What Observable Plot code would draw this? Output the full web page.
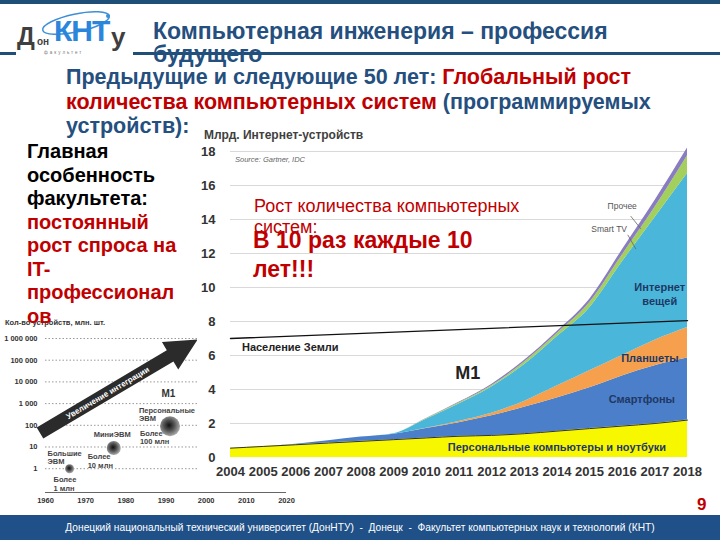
<!DOCTYPE html>
<html><head><meta charset="utf-8">
<script src="https://cdn.jsdelivr.net/npm/d3@7"></script>
<script src="https://cdn.jsdelivr.net/npm/@observablehq/plot@0.6"></script>
<style>
body{margin:0;background:#fff;}
#slide{position:relative;width:720px;height:540px;overflow:hidden;font-family:"Liberation Sans",Arial,sans-serif;background:#fff;}
.abs{position:absolute;white-space:nowrap;}
#main{position:absolute;left:197px;top:125px;}
#left{position:absolute;left:0px;top:315px;}
</style></head><body><div id="slide">
<div class="abs" style="left:0;top:0;width:720px;height:4px;background:#1f4e79"></div>
<div class="abs" style="left:0;top:52px;width:16px;height:3px;background:#1f4e79"></div>
<div class="abs" style="left:133px;top:52px;width:587px;height:3px;background:#1f4e79"></div>
<svg class="abs" style="left:38px;top:6px" width="80" height="36"><ellipse cx="38" cy="17" rx="34" ry="9" transform="rotate(-12 38 17)" fill="none" stroke="#3d8fd8" stroke-width="1.5"/><circle cx="70" cy="10" r="2" fill="#3d8fd8"/></svg>
<div class="abs" style="left:17px;top:22px;font-size:25px;font-weight:bold;color:#3f3f3f">Д</div>
<div class="abs" style="left:37px;top:36px;font-size:10px;font-weight:bold;color:#3f3f3f">он</div>
<div class="abs" style="left:54px;top:14px;font-size:30px;font-weight:bold;color:#2b86db;letter-spacing:-1px">КНТ</div>
<div class="abs" style="left:111px;top:22px;font-size:26px;font-weight:bold;color:#3f3f3f">у</div>
<div class="abs" style="left:44px;top:50px;font-size:4.5px;color:#777;letter-spacing:2px">факультет</div>

<div id="left"></div>
<div class="abs" style="left:5px;top:318px;font-size:7.5px;font-weight:bold;color:#333">Кол-во устройств, млн. шт.</div>
<div id="main"></div>
<div class="abs" style="left:204px;top:128px;font-size:12px;font-weight:bold;color:#404040">Млрд. Интернет-устройств</div>
<div class="abs" style="left:235px;top:155px;font-size:7.5px;font-style:italic;color:#666">Source: Gartner, IDC</div>

<div class="abs" style="left:153px;top:20px;font-size:23px;line-height:23px;font-weight:bold;color:#244f7e">Компьютерная инженерия – профессия<br>будущего</div>
<div class="abs" style="left:66px;top:65px;font-size:21.5px;line-height:24.5px;font-weight:bold;color:#244f7e">Предыдущие и следующие 50 лет: <span style="color:#c00000">Глобальный рост</span><br><span style="color:#c00000">количества компьютерных систем</span> (программируемых<br>устройств):</div>
<div class="abs" style="left:27px;top:140px;font-size:20px;line-height:23.5px;font-weight:bold;color:#000">Главная<br>особенность<br>факультета:<br><span style="color:#c00000">постоянный<br>рост спроса на<br>IT-<br>профессионал<br>ов</span></div>
<div class="abs" style="left:254px;top:196px;font-size:18px;line-height:21px;color:#c00000">Рост количества компьютерных<br>систем:</div>
<div class="abs" style="left:253px;top:226px;font-size:23px;line-height:29px;font-weight:bold;color:#c00000">В 10 раз каждые 10<br>лет!!!</div>
<div class="abs" style="left:697px;top:495px;font-size:17px;font-weight:bold;color:#c00000">9</div>
<div class="abs" style="left:0;top:515px;width:720px;height:25px;background:#1f5087;color:#fff;font-size:10.2px;line-height:25px;text-align:center">Донецкий национальный технический университет (ДонНТУ)&nbsp; - &nbsp;Донецк&nbsp; - &nbsp;Факультет компьютерных наук и технологий (КНТ)</div>
</div>
<script>
// ---------- Main chart data (billions of internet devices) ----------
const years = [2004,2005,2006,2007,2008,2009,2010,2011,2012,2013,2014,2015,2016,2017,2018];
const pcs         = [0.55,0.65,0.75,0.85,0.95,1.05,1.15,1.25,1.30,1.40,1.55,1.70,1.85,2.00,2.20];
const smartphones = [0,0,0.03,0.13,0.25,0.32,0.55,0.80,1.15,1.55,1.95,2.40,2.95,3.40,3.65];
const tablets     = [0,0,0,0,0,0,0.02,0.07,0.15,0.35,0.70,1.00,1.20,1.50,1.80];
const iot         = [0,0,0,0,0,0.03,0.53,1.03,1.55,2.15,2.90,3.70,5.50,7.20,9.05];
const smartTV     = [0,0,0,0,0,0,0.03,0.05,0.07,0.15,0.18,0.30,0.40,0.60,1.05];
const other       = [0,0,0,0,0,0,0.02,0.05,0.08,0.10,0.12,0.20,0.30,0.40,0.45];
const seriesNames = ["Персональные компьютеры и ноутбуки","Смартфоны","Планшеты","Интернет вещей","Smart TV","Прочее"];
const seriesColors = ["#f7f700","#4b7fca","#f6a04d","#4ab6d9","#a3cf5c","#8a7cc0"];
const popYears = [2004,2018];
const population = [7.0,8.05];
const yTicks = [0,2,4,6,8,10,12,14,16,18];

const bandLabels = [
  {text:"Персональные компьютеры и ноутбуки", x:2014.0, y:0.65},
  {text:"Смартфоны", x:2016.6, y:3.45},
  {text:"Планшеты", x:2016.85, y:5.86},
  {text:"Интернет\nвещей", x:2017.15, y:9.62}
];
const popLabel = [{text:"Население Земли", x:2005.83, y:6.5}];
const m1Label = [{text:"M1", x:2011.27, y:4.94}];
const smallLabels = [{text:"Прочее", x:2016.0, y:14.75},{text:"Smart TV", x:2015.6, y:13.4}];
const leaders = [{x1:2016.26,y1:14.2,x2:2016.57,y2:13.45},{x1:2016.17,y1:13.1,x2:2016.42,y2:12.26}];

// ---------- Left chart data (millions of devices, log) ----------
const eraYears = [1966,1977,1991];
const eraCounts = [1,9,90];
const eraRadius = [4.5,7,10];
const leftYTicks = [1,10,100,1000,10000,100000,1000000];
const leftXTicks = [1960,1970,1980,1990,2000,2010,2020];
const eraLabels = [
  {text:"Большие\nЭВМ", x:1960.5, y:3.4},
  {text:"Более\n1 млн", x:1962, y:0.2},
  {text:"МиниЭВМ", x:1972, y:37},
  {text:"Более\n10 млн", x:1970.5, y:2.3},
  {text:"Персональные\nЭВМ", x:1983.25, y:310},
  {text:"Более\n100 млн", x:1983.5, y:28}
];
const leftM1 = [{text:"M1", x:1990.6, y:2900}];
const arrowFrom = [1958.75, 42];
const arrowTo = [1998, 850000];
const arrowText = "Увеличение интеграции";

const stackRows = seriesNames.flatMap((s,i)=>years.map((y,j)=>({year:y, series:s, value:[pcs,smartphones,tablets,iot,smartTV,other][i][j]})));
const pcRows = years.map((y,j)=>({year:y, value:pcs[j]}));
const popRows = popYears.map((y,j)=>({year:y, value:population[j]}));

const font = "Liberation Sans, Arial, sans-serif";
const main = Plot.plot({
  width:518, height:360, marginLeft:33, marginRight:28, marginTop:26, marginBottom:28,
  style:{fontFamily:font, fontSize:"13px", fontWeight:"bold", color:"#333", background:"#fff", overflow:"visible"},
  x:{domain:[2004,2018], ticks:years, tickFormat:d=>String(d), tickSize:0, tickPadding:9, label:null},
  y:{domain:[0,18], ticks:yTicks, tickSize:0, tickPadding:15, label:null},
  color:{domain:seriesNames, range:seriesColors},
  marks:[
    Plot.ruleY(yTicks.slice(1), {stroke:"#d9d9d9", strokeWidth:1}),
    Plot.areaY(stackRows, {x:"year", y:"value", fill:"series", order:seriesNames, curve:"monotone-x"}),
    Plot.lineY(pcRows, {x:"year", y:"value", stroke:"#333", strokeWidth:1, curve:"monotone-x"}),
    Plot.lineY(popRows, {x:"year", y:"value", stroke:"#111", strokeWidth:1.4}),
    Plot.link(leaders, {x1:"x1", y1:"y1", x2:"x2", y2:"y2", stroke:"#666", strokeWidth:0.8}),
    Plot.text(bandLabels, {x:"x", y:"y", text:"text", fill:"#1f3864", fontSize:11, fontWeight:"bold", lineHeight:1.25}),
    Plot.text(popLabel, {x:"x", y:"y", text:"text", fill:"#222", fontSize:11, fontWeight:"bold"}),
    Plot.text(m1Label, {x:"x", y:"y", text:"text", fill:"#222", fontSize:18, fontWeight:"bold"}),
    Plot.text(smallLabels, {x:"x", y:"y", text:"text", fill:"#555", fontSize:8.5, fontWeight:"normal"})
  ]
});
document.getElementById("main").appendChild(main);

function arrowMark(...args){
  const scales = args.find(a => a && typeof a.x === "function" && typeof a.y === "function");
  const ns = "http://www.w3.org/2000/svg";
  const g = document.createElementNS(ns, "g");
  if (!scales) return g;
  const x0 = scales.x(arrowFrom[0]), y0 = scales.y(arrowFrom[1]);
  const x1 = scales.x(arrowTo[0]), y1 = scales.y(arrowTo[1]);
  const dx = x1-x0, dy = y1-y0, L = Math.hypot(dx,dy), ux = dx/L, uy = dy/L, px = -uy, py = ux;
  const sw = 6.5, hw = 16, hl = 32;
  const bx = x1 - ux*hl, by = y1 - uy*hl;
  const pts = [
    [x0+px*sw, y0+py*sw],[bx+px*sw, by+py*sw],[bx+px*hw, by+py*hw],[x1,y1],
    [bx-px*hw, by-py*hw],[bx-px*sw, by-py*sw],[x0-px*sw, y0-py*sw]
  ];
  const poly = document.createElementNS(ns, "polygon");
  poly.setAttribute("points", pts.map(p=>p.join(",")).join(" "));
  poly.setAttribute("fill", "#2b2b2b");
  g.appendChild(poly);
  const t = document.createElementNS(ns, "text");
  const cx = x0 + dx*0.43, cy = y0 + dy*0.43;
  t.setAttribute("transform", `translate(${cx},${cy}) rotate(${Math.atan2(dy,dx)*180/Math.PI})`);
  t.setAttribute("text-anchor", "middle");
  t.setAttribute("dy", "0.35em");
  t.setAttribute("fill", "#fff");
  t.setAttribute("font-size", "8");
  t.setAttribute("font-weight", "bold");
  t.textContent = arrowText;
  g.appendChild(t);
  return g;
}

const eraRows = eraYears.map((y,i)=>({year:y, count:eraCounts[i], r:eraRadius[i]}));
const left = Plot.plot({
  width:295, height:195, marginLeft:45, marginRight:9, marginTop:23, marginBottom:18,
  style:{fontFamily:font, fontSize:"7.5px", fontWeight:"bold", color:"#333", background:"transparent", overflow:"visible"},
  x:{domain:[1960,2020], ticks:leftXTicks, tickFormat:d=>String(d), tickSize:0, tickPadding:5, label:null},
  y:{type:"log", domain:[0.08,1e6], ticks:leftYTicks, tickFormat:d=>d3.format(",")(d).replace(/,/g," "), tickSize:0, tickPadding:8, label:null},
  r:{type:"identity"},
  marks:[
    Plot.ruleY(leftYTicks, {stroke:"#999", strokeDasharray:"1.5,2"}),
    Plot.ruleY([0.08], {stroke:"#666"}),
    Plot.dot(eraRows, {x:"year", y:"count", r:"r", fill:"url(#bub)"}),
    Plot.text(eraLabels, {x:"x", y:"y", text:"text", textAnchor:"start", fill:"#444", fontSize:7.5, fontWeight:"bold", lineHeight:1.1}),
    Plot.text(leftM1, {x:"x", y:"y", text:"text", fill:"#333", fontSize:10, fontWeight:"bold"}),
    arrowMark
  ]
});
const defs = document.createElementNS("http://www.w3.org/2000/svg","defs");
defs.innerHTML = '<radialGradient id="bub" cx="0.45" cy="0.45" r="0.55"><stop offset="0" stop-color="#111"/><stop offset="0.5" stop-color="#555"/><stop offset="1" stop-color="#aaa"/></radialGradient>';
left.insertBefore(defs, left.firstChild);
document.getElementById("left").appendChild(left);
</script>
</body></html>
